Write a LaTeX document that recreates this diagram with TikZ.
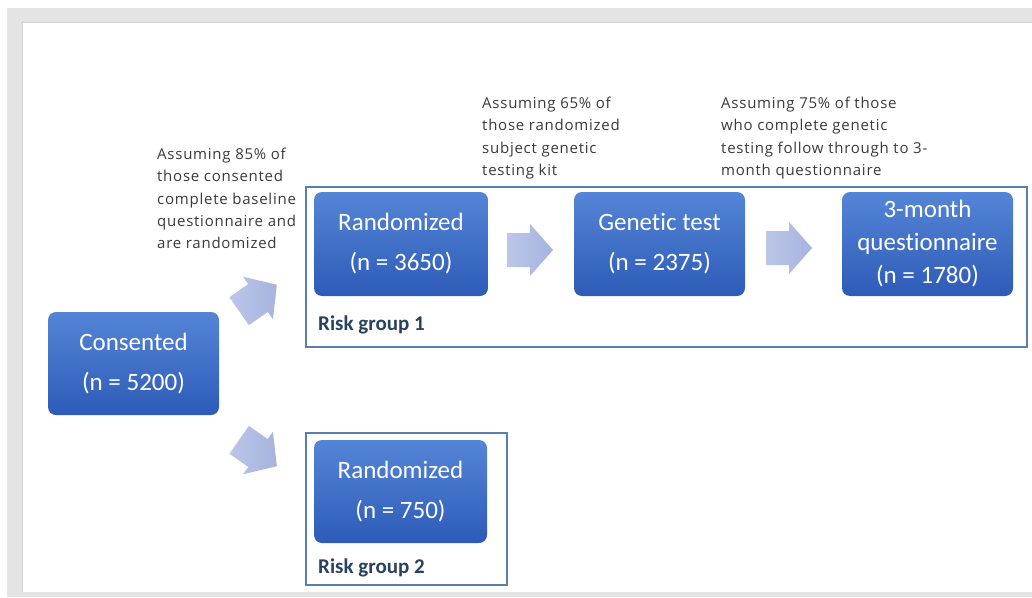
\documentclass[tikz,border=0pt]{standalone}
\usepackage{fontspec}
\newfontfamily\boxfont[Ligatures={NoCommon,NoRare}]{Carlito}
\newfontfamily\notefont[LetterSpace=5]{Open Sans}
\usetikzlibrary{shadings}
\definecolor{boxtop}{HTML}{5585D6}
\definecolor{boxbot}{HTML}{2D5BB8}
\definecolor{arrlight}{HTML}{BCC6E8}
\definecolor{arrdark}{HTML}{A5B3DE}
\definecolor{framecol}{HTML}{5A7FAE}
\definecolor{labelcol}{HTML}{2A4262}
\definecolor{notecol}{HTML}{3A3A3A}
\definecolor{panelgray}{HTML}{E4E4E4}
\definecolor{paneledge}{HTML}{D2D2D2}
\tikzset{
  stagebox/.style={rounded corners=8pt, top color=boxtop, bottom color=boxbot,
    text=white, align=center, inner sep=0pt,
    font=\boxfont\fontsize{25}{40}\selectfont},
  groupframe/.style={draw=framecol, line width=1.3pt},
  grouplabel/.style={anchor=base west, inner sep=0pt, text=labelcol,
    font=\boxfont\bfseries\fontsize{21}{22}\selectfont},
  note/.style={anchor=north west, inner sep=0pt, align=left, text=notecol,
    font=\notefont\fontsize{15}{22.2}\selectfont},
  flowarrow/.style={left color=arrlight, right color=arrdark, draw=none}
}
% block arrow: centre x, centre y, angle, name
\newcommand\blockarrow[4]{%
  \begin{scope}[shift={(#1,#2)}, rotate=#3]
    \shade[flowarrow] (-23,-17) -- (0,-17) -- (0,-26) -- (23,0) -- (0,26) -- (0,17) -- (-23,17) -- cycle;
    \coordinate (#4) at (0,0);
  \end{scope}}
\begin{document}
\begin{tikzpicture}[x=1pt, y=-1pt]
  % page and panel
  \useasboundingbox (0,0) rectangle (1032,597);
  \fill[white] (0,0) rectangle (1032,597);
  \fill[panelgray] (7,8) rectangle (1032,597);
  \fill[white] (22,22) rectangle (1032,592);
  \draw[paneledge, line width=0.8pt] (22,592) -- (22,22) -- (1032,22);

  % group frames
  \draw[groupframe] (306,187) rectangle (1027,347);
  \draw[groupframe] (306,433) rectangle (507,585);
  \node[grouplabel] (g1) at (318,330) {Risk group 1};
  \node[grouplabel] (g2) at (318,573) {Risk group 2};

  % stages
  \node[stagebox, minimum width=171pt, minimum height=103pt] (cons) at (133.5,363.5) {Consented\\(n = 5200)};
  \node[stagebox, minimum width=174pt, minimum height=104pt] (rand1) at (401,244) {Randomized\\(n = 3650)};
  \node[stagebox, minimum width=171pt, minimum height=104pt] (gene) at (659.5,244) {Genetic test\\(n = 2375)};
  \node[stagebox, minimum width=171pt, minimum height=104pt,
        font=\boxfont\fontsize{25}{33}\selectfont] (quest) at (927.5,244) {3-month\\questionnaire\\(n = 1780)};
  \node[stagebox, minimum width=173pt, minimum height=103pt] (rand2) at (400.5,491.5) {Randomized\\(n = 750)};

  % block arrows between stages
  \blockarrow{258}{298}{35}{a1}
  \blockarrow{258}{453}{-35}{a2}
  \blockarrow{530}{250}{0}{a3}
  \blockarrow{789}{248}{0}{a4}

  % assumptions
  \node[note] (n1) at (157,148) {Assuming 85\% of\\those consented\\complete baseline\\questionnaire and\\are randomized};
  \node[note] (n2) at (482,97) {Assuming 65\% of\\those randomized\\subject genetic\\testing kit};
  \node[note] (n3) at (721,97) {Assuming 75\% of those\\who complete genetic\\testing follow through to 3-\\month questionnaire};
\end{tikzpicture}
\end{document}
